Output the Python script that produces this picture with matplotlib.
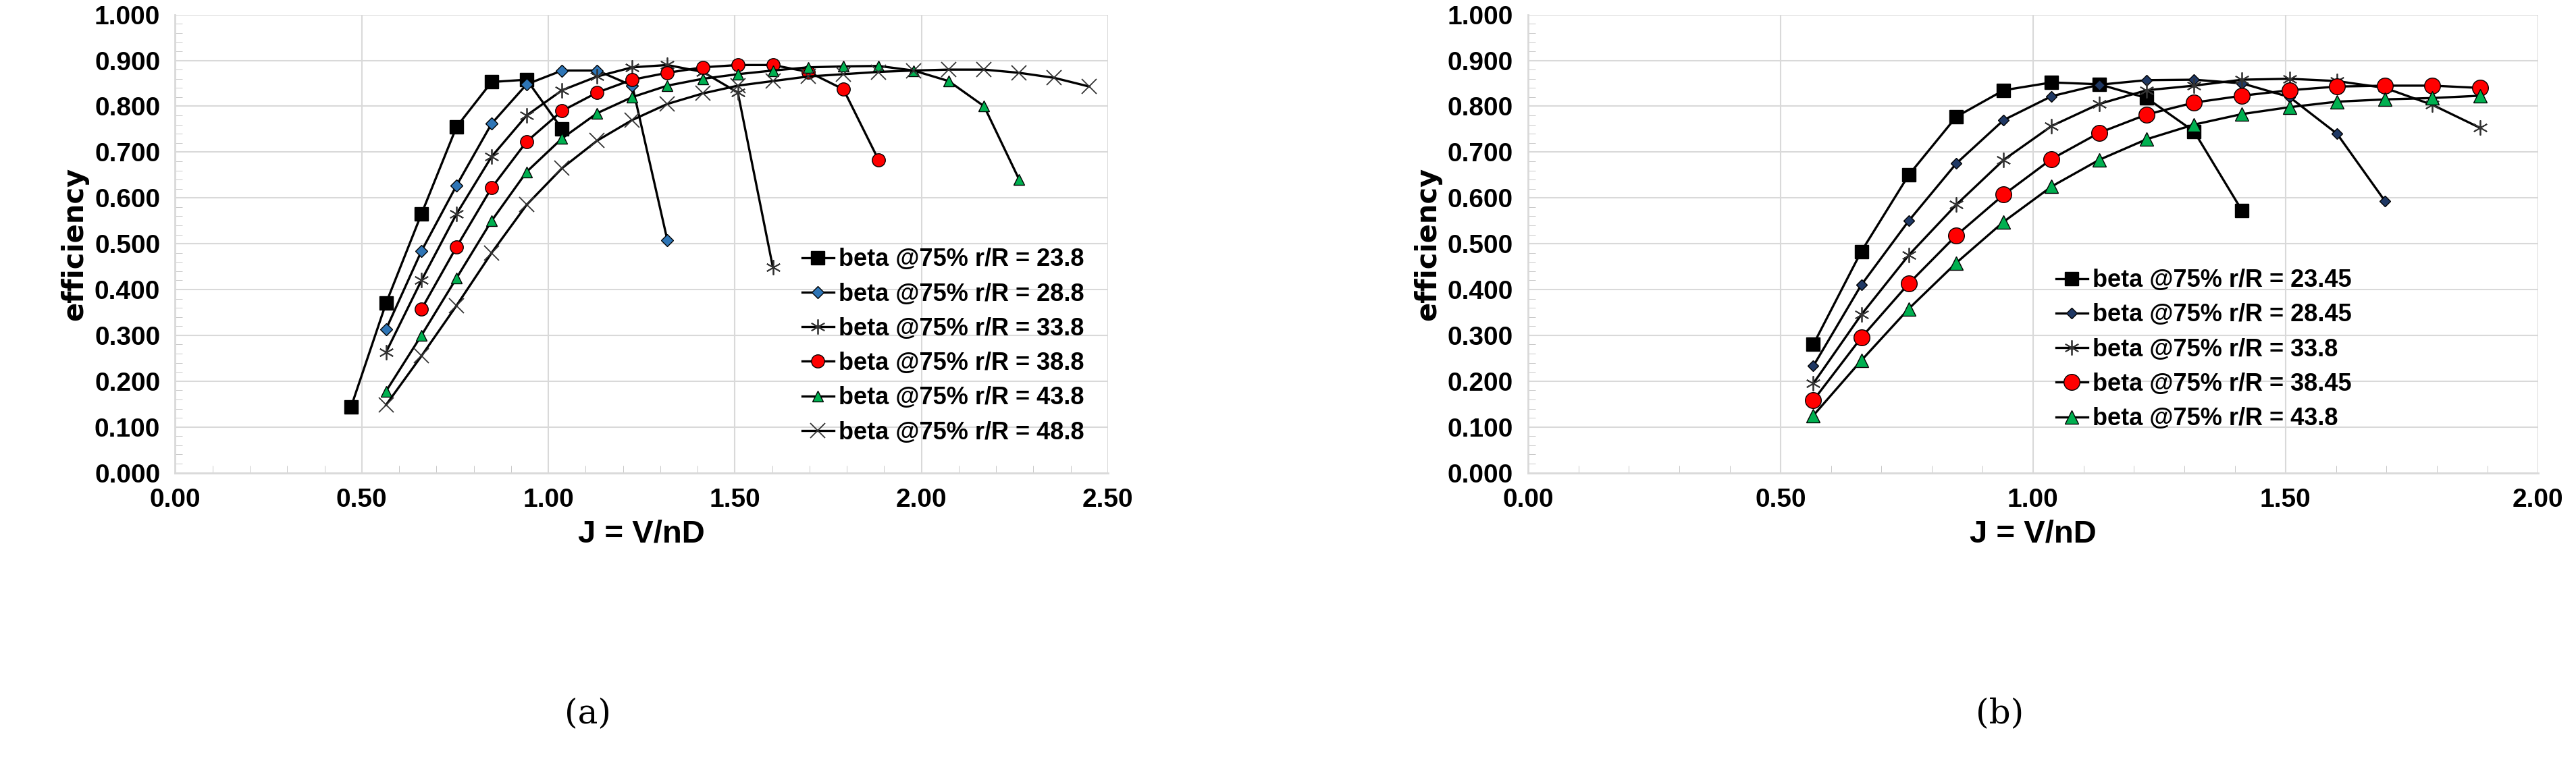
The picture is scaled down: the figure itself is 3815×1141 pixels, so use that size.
import matplotlib
matplotlib.use('Agg')
import matplotlib.pyplot as plt
from matplotlib.ticker import MultipleLocator

plt.rcParams['font.family'] = ['Liberation Sans Narrow', 'Liberation Sans', 'DejaVu Sans']

# advance ratio grid (step ~0.0942)
J = [0.471, 0.565, 0.660, 0.754, 0.848, 0.942, 1.037, 1.131, 1.225, 1.319, 1.414,
     1.508, 1.602, 1.697, 1.791, 1.885, 1.979, 2.073, 2.168, 2.262, 2.356, 2.450]

# panel (a)
a_labels = ['beta @75% r/R = 23.8', 'beta @75% r/R = 28.8', 'beta @75% r/R = 33.8',
            'beta @75% r/R = 38.8', 'beta @75% r/R = 43.8', 'beta @75% r/R = 48.8']
a_start = [0, 1, 1, 2, 1, 1]
a_eff = [
    [0.143, 0.370, 0.565, 0.755, 0.853, 0.858, 0.750],
    [0.313, 0.484, 0.627, 0.762, 0.848, 0.878, 0.878, 0.845, 0.508],
    [0.263, 0.420, 0.565, 0.690, 0.780, 0.835, 0.865, 0.885, 0.890, 0.875, 0.830, 0.448],
    [0.357, 0.493, 0.622, 0.723, 0.790, 0.830, 0.858, 0.873, 0.885, 0.890, 0.890,
     0.875, 0.837, 0.683],
    [0.178, 0.300, 0.425, 0.550, 0.657, 0.730, 0.785, 0.820, 0.845, 0.860, 0.870,
     0.878, 0.885, 0.887, 0.888, 0.878, 0.855, 0.800, 0.640],
    [0.148, 0.255, 0.365, 0.480, 0.585, 0.665, 0.725, 0.770, 0.805, 0.828, 0.845,
     0.855, 0.865, 0.870, 0.875, 0.878, 0.880, 0.880, 0.873, 0.862, 0.843],
]

# panel (b)
b_labels = ['beta @75% r/R = 23.45', 'beta @75% r/R = 28.45', 'beta @75% r/R = 33.8',
            'beta @75% r/R = 38.45', 'beta @75% r/R = 43.8']
b_start = [1, 1, 1, 1, 1]
b_eff = [
    [0.280, 0.483, 0.650, 0.777, 0.835, 0.852, 0.848, 0.818, 0.745, 0.572],
    [0.233, 0.410, 0.550, 0.675, 0.770, 0.822, 0.847, 0.857, 0.858, 0.850, 0.820,
     0.740, 0.593],
    [0.195, 0.345, 0.475, 0.585, 0.683, 0.757, 0.805, 0.835, 0.845, 0.858, 0.860,
     0.855, 0.840, 0.803, 0.753],
    [0.158, 0.295, 0.413, 0.518, 0.607, 0.685, 0.742, 0.782, 0.808, 0.823, 0.835,
     0.843, 0.845, 0.845, 0.840],
    [0.125, 0.245, 0.358, 0.458, 0.548, 0.625, 0.683, 0.728, 0.760, 0.783, 0.798,
     0.810, 0.815, 0.818, 0.823],
]

a_styles = [('s', '#000000', 14), ('D', '#2e75b6', 9), ('*', '#000000', 0),
            ('o', '#ff0000', 14), ('^', '#00b050', 12), ('x', '#000000', 0)]
b_styles = [('s', '#000000', 14), ('D', '#1f3864', 8), ('*', '#000000', 0),
            ('o', '#ff0000', 17), ('^', '#00b050', 15)]


def draw_panel(ax, labels, starts, effs, styles, xmax):
    for lab, s0, eff, (m, c, ms) in zip(labels, starts, effs, styles):
        xs = J[s0:s0 + len(eff)]
        if m in ('*', 'x'):
            ax.plot(xs, eff, color='black', lw=2.4, marker=(6, 2, 0) if m == '*' else 'x',
                    ms=16, mew=1.3, mec='#333333', label=lab)
        else:
            ax.plot(xs, eff, color='black', lw=2.4, marker=m, ms=ms, mfc=c,
                    mec='black', mew=1.0, label=lab)
    ax.set_xlim(0, xmax)
    ax.set_ylim(0, 1.0)
    ax.xaxis.set_major_locator(MultipleLocator(0.5))
    ax.xaxis.set_minor_locator(MultipleLocator(0.1))
    ax.yaxis.set_major_locator(MultipleLocator(0.1))
    ax.yaxis.set_minor_locator(MultipleLocator(0.02))
    ax.xaxis.set_major_formatter(plt.FuncFormatter(lambda v, p: '%.2f' % v))
    ax.yaxis.set_major_formatter(plt.FuncFormatter(lambda v, p: '%.3f' % v))
    ax.grid(True, which='major', color='#d9d9d9', lw=1.5)
    for side in ('top', 'right'):
        ax.spines[side].set_visible(False)
    for side in ('left', 'bottom'):
        ax.spines[side].set_color('#d9d9d9')
        ax.spines[side].set_linewidth(2)
    ax.tick_params(which='both', direction='in', color='#bfbfbf', labelsize=28, pad=16)
    ax.tick_params(which='major', length=0)
    ax.tick_params(which='minor', length=8)
    for t in ax.get_xticklabels() + ax.get_yticklabels():
        t.set_fontweight('bold')
    ax.set_xlabel('J = V/nD', fontsize=34, fontweight='bold', labelpad=8)
    ax.set_ylabel('efficiency', fontsize=30, fontweight='bold', family='DejaVu Sans',
                  labelpad=6)
    leg = ax.legend(loc='lower right', frameon=False, fontsize=26, handlelength=1.3,
                    handletextpad=0.2, labelspacing=0.45, borderaxespad=0.2)
    for t in leg.get_texts():
        t.set_fontweight('bold')


fig = plt.figure(figsize=(38.16, 11.41), dpi=100)
ax1 = fig.add_axes([0.068, 0.386, 0.362, 0.595])
ax2 = fig.add_axes([0.593, 0.386, 0.392, 0.595])
draw_panel(ax1, a_labels, a_start, a_eff, a_styles, 2.5)
draw_panel(ax2, b_labels, b_start, b_eff, b_styles, 2.0)
ax1.legend_.set_bbox_to_anchor((0.99, 0.03))
ax2.legend_.set_bbox_to_anchor((0.83, 0.06))

fig.text(0.228, 0.06, '(a)', ha='center', fontsize=36, family='DejaVu Serif')
fig.text(0.776, 0.06, '(b)', ha='center', fontsize=36, family='DejaVu Serif')

fig.savefig('out.png', dpi=100)
plt.close(fig)
